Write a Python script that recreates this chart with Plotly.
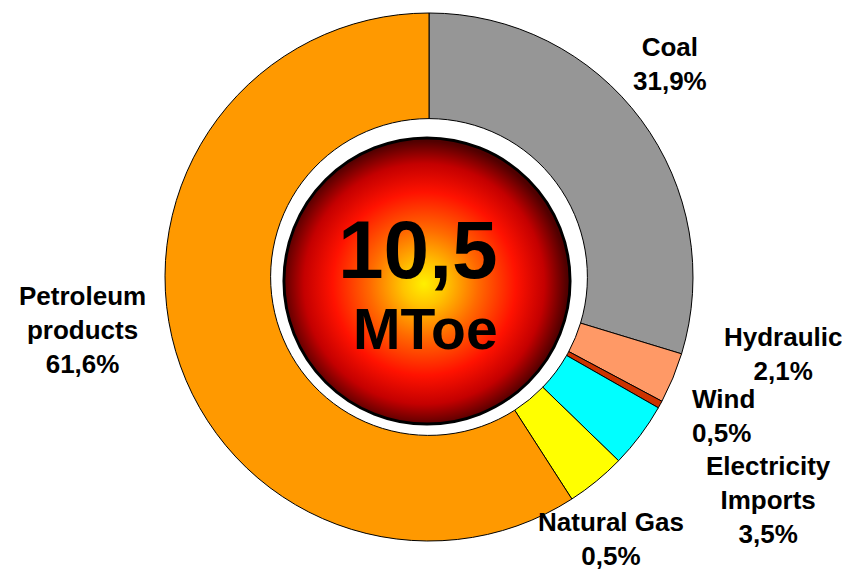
import base64

import plotly.graph_objects as go

# slices, clockwise from 12 o'clock
sources = ["Coal", "Hydraulic", "Wind", "Electricity Imports", "Natural Gas", "Petroleum products"]
drawn_share = [29.7, 3.1, 0.45, 4.0, 3.65, 59.1]  # angular share as drawn
label_text = ["Coal", "Hydraulic", "Wind", "Electricity<br>Imports", "Natural Gas", "Petroleum<br>products"]
label_pct = ["31,9%", "2,1%", "0,5%", "3,5%", "0,5%", "61,6%"]
slice_colors = ["#969696", "#FF9966", "#CC3300", "#00FFFF", "#FFFF00", "#FF9900"]

# label block centres in screen pixels (x, y from top)
label_pos = [(670, 64), (783, 354), (723, 416), (768, 500), (611, 539), (82, 330)]

total_value = "10,5"
total_unit = "MToe"

W, H = 850, 573
OFF = 8  # the page body margin shifts the figure by this much
FONT = "Liberation Sans, Arial, sans-serif"


def px_x(x):
    return (x - OFF) / W


def px_y(y):
    return 1 - (y - OFF) / H


# pie geometry in screen px
cx, cy, r_out = 429, 277, 264

fig = go.Figure()
fig.add_trace(
    go.Pie(
        labels=sources,
        values=drawn_share,
        sort=False,
        direction="clockwise",
        rotation=0,
        hole=0.60,
        marker=dict(colors=slice_colors, line=dict(color="#000000", width=1)),
        textinfo="none",
        hoverinfo="label",
        showlegend=False,
        domain=dict(
            x=[px_x(cx - r_out), px_x(cx + r_out)],
            y=[px_y(cy + r_out), px_y(cy - r_out)],
        ),
    )
)

# shaded ball in the middle, as an svg with a radial gradient
sphere_svg = """<svg xmlns='http://www.w3.org/2000/svg' width='300' height='300' viewBox='0 0 300 300'>
<defs><radialGradient id='g' cx='0.49' cy='0.51' r='0.5'>
<stop offset='0' stop-color='#FFF000'/>
<stop offset='0.15' stop-color='#FFC400'/>
<stop offset='0.38' stop-color='#FF6A00'/>
<stop offset='0.64' stop-color='#FF1200'/>
<stop offset='0.84' stop-color='#C40000'/>
<stop offset='1' stop-color='#500000'/>
</radialGradient></defs>
<circle cx='150' cy='150' r='147' fill='url(#g)' stroke='#000' stroke-width='3'/>
</svg>"""
sphere_src = "data:image/svg+xml;base64," + base64.b64encode(sphere_svg.encode()).decode()

sx, sy, sr = 427, 281, 146
fig.add_layout_image(
    dict(
        source=sphere_src,
        xref="paper", yref="paper",
        x=px_x(sx - sr), y=px_y(sy - sr),
        sizex=2 * sr / W, sizey=2 * sr / H,
        xanchor="left", yanchor="top",
        sizing="stretch",
        layer="above",
    )
)

for txt, pct, (lx, ly) in zip(label_text, label_pct, label_pos):
    fig.add_annotation(
        x=px_x(lx), y=px_y(ly), xref="paper", yref="paper",
        text=f"<b>{txt}<br>{pct}</b>",
        showarrow=False, xanchor="center", yanchor="middle",
        align="left" if txt == "Wind" else "center",
        font=dict(family=FONT, size=26, color="#000000"),
    )

fig.add_annotation(
    x=px_x(418), y=px_y(250), xref="paper", yref="paper",
    text=f"<b>{total_value}</b>", showarrow=False,
    xanchor="center", yanchor="middle",
    font=dict(family=FONT, size=82, color="#000000"),
)
fig.add_annotation(
    x=px_x(425), y=px_y(329), xref="paper", yref="paper",
    text=f"<b>{total_unit}</b>", showarrow=False,
    xanchor="center", yanchor="middle",
    font=dict(family=FONT, size=57, color="#000000"),
)

fig.update_layout(
    width=W, height=H,
    margin=dict(l=0, r=0, t=0, b=0),
    paper_bgcolor="#FFFFFF",
    plot_bgcolor="#FFFFFF",
)

fig.write_html("out.html")
